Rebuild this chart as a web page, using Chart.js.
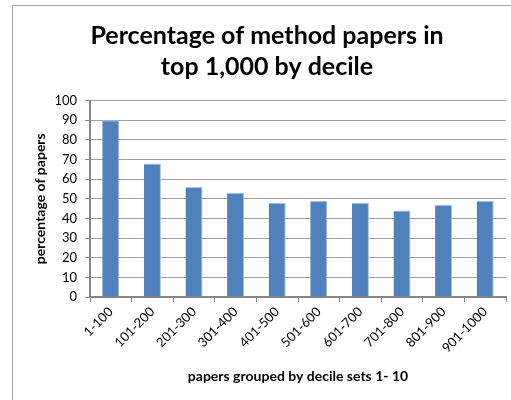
<!DOCTYPE html>
<html>
<head>
<meta charset="utf-8">
<script src="https://cdn.jsdelivr.net/npm/chart.js@4"></script>
<style>
  html, body { margin: 0; padding: 0; background: #fff; overflow: hidden; }
  #frame { position: absolute; left: 12px; top: 5px; width: 530px; height: 420px; border: 1px solid #a6a6a6; }
  #wrap { position: absolute; left: 0; top: 0; width: 511px; height: 400px; }
</style>
</head>
<body>
<div id="frame"></div>
<div id="wrap"><canvas id="decileChart" width="511" height="400"></canvas></div>
<script>
// ── dados: % de artigos de método por decil ──────────────────
const DECILES = ['1-100', '101-200', '201-300', '301-400', '401-500',
                 '501-600', '601-700', '701-800', '801-900', '901-1000'];
const PCT_METHOD = [90, 68, 56, 53, 48, 49, 48, 44, 47, 49];
const Y_TICKS = [0, 10, 20, 30, 40, 50, 60, 70, 80, 90, 100];

const FONT = 'Lato, "Open Sans", sans-serif';
const AXIS_COLOR = '#868686';
const GRID_COLOR = '#a0a0a0';

new Chart(document.getElementById('decileChart'), {
  type: 'bar',
  data: {
    labels: DECILES,
    datasets: [{
      data: PCT_METHOD,
      backgroundColor: '#4f81bd',
      borderColor: '#a9c1e0',
      borderWidth: { top: 1, right: 1, left: 0, bottom: 0 },
      barPercentage: 0.41,
      categoryPercentage: 1,
    }],
  },
  options: {
    responsive: false,
    animation: false,
    layout: { padding: { left: 28, right: 5, top: 0, bottom: 0 } },
    plugins: {
      legend: { display: false },
      tooltip: { enabled: false },
      title: {
        display: true,
        text: ['Percentage of method papers in', 'top 1,000 by decile'],
        font: { family: FONT, size: 25, weight: 'bold', lineHeight: 1.25 },
        color: '#000',
        padding: { top: 20, bottom: 18 },
      },
    },
    scales: {
      x: {
        grid: { offset: true, drawOnChartArea: false, drawTicks: true, tickLength: 5, color: AXIS_COLOR },
        border: { color: AXIS_COLOR, width: 2 },
        ticks: { font: { family: FONT, size: 13 }, color: '#000', minRotation: 45, maxRotation: 45, padding: 2 },
        title: {
          display: true, text: 'papers grouped by decile sets 1- 10',
          font: { family: FONT, size: 14, weight: 'bold' }, color: '#000',
          padding: { bottom: 15 },
        },
        afterFit: s => { s.height = 103; },
      },
      y: {
        min: 0, max: 100,
        afterBuildTicks: s => { s.ticks = Y_TICKS.map(v => ({ value: v })); },
        grid: { color: GRID_COLOR, tickLength: 5, tickColor: AXIS_COLOR },
        border: { color: AXIS_COLOR, width: 2 },
        ticks: { font: { family: FONT, size: 13 }, color: '#000', padding: 8 },
        title: {
          display: true, text: 'percentage of papers',
          font: { family: FONT, size: 14, weight: 'bold' }, color: '#000',
          padding: { top: 4 },
        },
        afterFit: s => { s.width = 62; },
      },
    },
  },
});
</script>
</body>
</html>
